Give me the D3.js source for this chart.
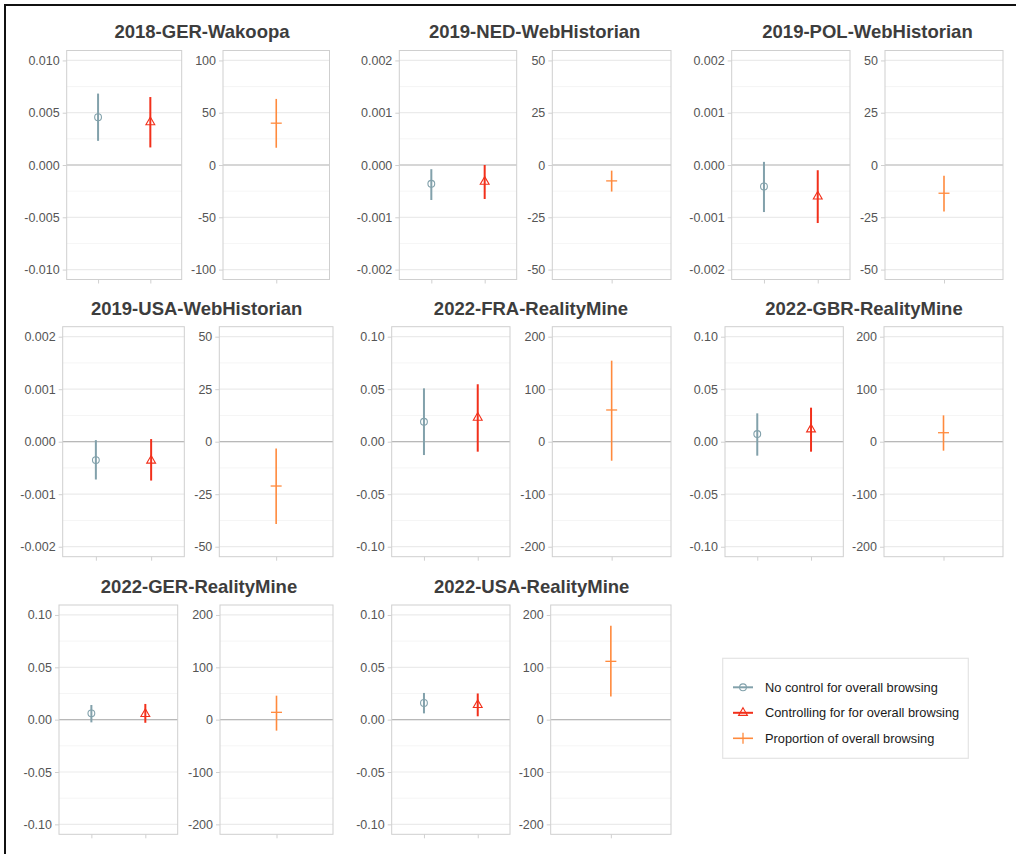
<!DOCTYPE html>
<html>
<head>
<meta charset="utf-8">
<script src="https://cdn.jsdelivr.net/npm/d3@7"></script>
<style>
  body { margin: 0; background: #fff; }
  svg { display: block; font-family: "Liberation Sans", Arial, sans-serif; }
</style>
</head>
<body>
<div id="chart"></div>
<script>
// estimates and 95% intervals
var studies = ["2018-GER-Wakoopa", "2019-NED-WebHistorian", "2019-POL-WebHistorian",
               "2019-USA-WebHistorian", "2022-FRA-RealityMine", "2022-GBR-RealityMine",
               "2022-GER-RealityMine", "2022-USA-RealityMine"];
var noCtrlEst = [0.00457, -0.00036, -0.00041, -0.00035, 0.019, 0.0073, 0.006, 0.016];
var noCtrlLo  = [0.00231, -0.00067, -0.00090, -0.00072, -0.0127, -0.0133, -0.0026, 0.006];
var noCtrlHi  = [0.00683, -0.00008, 0.00006, 0.00003, 0.0508, 0.027, 0.014, 0.0255];
var ctrlEst = [0.0041, -0.00032, -0.0006, -0.00036, 0.0229, 0.0118, 0.0055, 0.014];
var ctrlLo  = [0.00168, -0.00065, -0.00111, -0.00074, -0.0095, -0.0095, -0.003, 0.0032];
var ctrlHi  = [0.0065, 0.0, -0.0001, 0.00005, 0.0547, 0.0324, 0.015, 0.025];
var propEst = [40, -7.6, -13.5, -21.1, 60.4, 17.1, 14, 111.4];
var propLo  = [16.5, -12.7, -22.2, -39.2, -36.2, -17.1, -21, 44];
var propHi  = [63.2, -2.7, -5.1, -3.2, 154.3, 50.2, 45.8, 179.6];

var effectTicks = [
  [-0.01, -0.005, 0, 0.005, 0.01],
  [-0.002, -0.001, 0, 0.001, 0.002],
  [-0.002, -0.001, 0, 0.001, 0.002],
  [-0.002, -0.001, 0, 0.001, 0.002],
  [-0.1, -0.05, 0, 0.05, 0.1],
  [-0.1, -0.05, 0, 0.05, 0.1],
  [-0.1, -0.05, 0, 0.05, 0.1],
  [-0.1, -0.05, 0, 0.05, 0.1]
];
var effectTickLabels = [
  ["-0.010", "-0.005", "0.000", "0.005", "0.010"],
  ["-0.002", "-0.001", "0.000", "0.001", "0.002"],
  ["-0.002", "-0.001", "0.000", "0.001", "0.002"],
  ["-0.002", "-0.001", "0.000", "0.001", "0.002"],
  ["-0.10", "-0.05", "0.00", "0.05", "0.10"],
  ["-0.10", "-0.05", "0.00", "0.05", "0.10"],
  ["-0.10", "-0.05", "0.00", "0.05", "0.10"],
  ["-0.10", "-0.05", "0.00", "0.05", "0.10"]
];
var propTicks = [
  [-100, -50, 0, 50, 100],
  [-50, -25, 0, 25, 50],
  [-50, -25, 0, 25, 50],
  [-50, -25, 0, 25, 50],
  [-200, -100, 0, 100, 200],
  [-200, -100, 0, 100, 200],
  [-200, -100, 0, 100, 200],
  [-200, -100, 0, 100, 200]
];
var seriesNames = ["No control for overall browsing",
                   "Controlling for for overall browsing",
                   "Proportion of overall browsing"];
var colBlue = "#82a1ab", colRed = "#f2301b", colOrange = "#ff8a3d";

// layout of the patchwork: panel boxes (px)
var rows = [{y0: 50.5, y1: 279.5, tb: 37.5}, {y0: 326.7, y1: 556.7, tb: 315}, {y0: 605, y1: 834.3, tb: 592.5}];
var layout = [
  {row: 0, l: [66.7, 181.7], r: [223, 329.5], tx: 202},
  {row: 0, l: [399.3, 516.7], r: [552.3, 671], tx: 534.7},
  {row: 0, l: [731.7, 850], r: [885, 1003], tx: 867.5},
  {row: 1, l: [62.7, 184.3], r: [219.3, 333], tx: 196.7},
  {row: 1, l: [391.7, 510], r: [552.3, 671], tx: 531},
  {row: 1, l: [725, 843.3], r: [884, 1003], tx: 864},
  {row: 2, l: [59, 177.7], r: [220, 333], tx: 199},
  {row: 2, l: [391.7, 510], r: [550.7, 671], tx: 531.7}
];

var W = 1016, H = 854;
var svg = d3.select("#chart").append("svg").attr("width", W).attr("height", H);
svg.append("rect").attr("width", W).attr("height", H).attr("fill", "#fff");

// clipped border of the source figure
svg.append("line").attr("x1", 5).attr("x2", 5).attr("y1", 4).attr("y2", H)
  .attr("stroke", "#111").attr("stroke-width", 2);
svg.append("line").attr("x1", 4).attr("x2", W).attr("y1", 5).attr("y2", 5)
  .attr("stroke", "#111").attr("stroke-width", 2);

function drawBox(g, x0, x1, y0, y1, ticks, labels, intervals) {
  var ext = ticks[ticks.length - 1] * 1.095;
  var y = d3.scaleLinear().domain([-ext, ext]).range([y1, y0]);
  var minor = [];
  for (var i = 0; i < ticks.length - 1; i++) minor.push((ticks[i] + ticks[i + 1]) / 2);

  g.selectAll(".minor").data(minor).enter().append("line")
    .attr("x1", x0).attr("x2", x1).attr("y1", y).attr("y2", y)
    .attr("stroke", "#f3f3f3").attr("stroke-width", 0.8);
  g.selectAll(".major").data(ticks).enter().append("line")
    .attr("x1", x0).attr("x2", x1).attr("y1", y).attr("y2", y)
    .attr("stroke", "#ebebeb").attr("stroke-width", 1.2);
  g.append("line").attr("x1", x0).attr("x2", x1).attr("y1", y(0)).attr("y2", y(0))
    .attr("stroke", "#b8b8b8").attr("stroke-width", 1.2);

  var ax = g.append("g").attr("transform", "translate(" + x0 + ",0)")
    .call(d3.axisLeft(y).tickValues(ticks).tickSize(4).tickPadding(3)
      .tickFormat(function(d, i) { return labels[i]; }));
  ax.select(".domain").remove();
  ax.selectAll(".tick line").attr("stroke", "#d0d0d0");
  ax.selectAll(".tick text").attr("fill", "#555").style("font-size", "12.5px");

  g.append("rect").attr("x", x0).attr("y", y0).attr("width", x1 - x0).attr("height", y1 - y0)
    .attr("fill", "none").attr("stroke", "#cfcfcf").attr("stroke-width", 1);

  var x = d3.scalePoint().domain(intervals.map(function(d) { return d.key; }))
    .range([x0, x1]).padding(intervals.length > 1 ? 0.6 : 1);

  var xa = g.append("g").attr("transform", "translate(0," + y1 + ")")
    .call(d3.axisBottom(x).tickSize(4).tickFormat(""));
  xa.select(".domain").remove();
  xa.selectAll(".tick line").attr("stroke", "#d0d0d0");
  return {x: x, y: y};
}

function drawMarker(g, shape, cx, cy, col) {
  if (shape === "circle") {
    g.append("circle").attr("cx", cx).attr("cy", cy).attr("r", 3.4)
      .attr("fill", "none").attr("stroke", col).attr("stroke-width", 1.1);
  } else if (shape === "triangle") {
    g.append("path").attr("d", d3.symbol(d3.symbolTriangle, 34)())
      .attr("transform", "translate(" + cx + "," + cy + ")")
      .attr("fill", "none").attr("stroke", col).attr("stroke-width", 1.1);
  } else {
    g.append("line").attr("x1", cx - 5.5).attr("x2", cx + 5.5).attr("y1", cy).attr("y2", cy)
      .attr("stroke", col).attr("stroke-width", 1.3);
  }
}

studies.forEach(function(name, i) {
  var L = layout[i], R = rows[L.row];
  var g = svg.append("g");

  g.append("text").attr("x", L.tx).attr("y", R.tb).attr("text-anchor", "middle")
    .attr("fill", "#3d3d3d").style("font-size", "18.5px").style("font-weight", "bold")
    .text(name);

  var left = [
    {key: "nc", est: noCtrlEst[i], lo: noCtrlLo[i], hi: noCtrlHi[i], col: colBlue, shape: "circle"},
    {key: "c", est: ctrlEst[i], lo: ctrlLo[i], hi: ctrlHi[i], col: colRed, shape: "triangle"}
  ];
  var sL = drawBox(g, L.l[0], L.l[1], R.y0, R.y1, effectTicks[i], effectTickLabels[i], left);
  left.forEach(function(d) {
    g.append("line").attr("x1", sL.x(d.key)).attr("x2", sL.x(d.key))
      .attr("y1", sL.y(d.lo)).attr("y2", sL.y(d.hi))
      .attr("stroke", d.col).attr("stroke-width", 2);
    drawMarker(g, d.shape, sL.x(d.key), sL.y(d.est), d.col);
  });

  var right = [{key: "p", est: propEst[i], lo: propLo[i], hi: propHi[i], col: colOrange, shape: "plus"}];
  var rTicks = propTicks[i];
  var sR = drawBox(g, L.r[0], L.r[1], R.y0, R.y1, rTicks, rTicks.map(String), right);
  right.forEach(function(d) {
    g.append("line").attr("x1", sR.x(d.key)).attr("x2", sR.x(d.key))
      .attr("y1", sR.y(d.lo)).attr("y2", sR.y(d.hi))
      .attr("stroke", d.col).attr("stroke-width", 1.6);
    drawMarker(g, d.shape, sR.x(d.key), sR.y(d.est), d.col);
  });
});

// legend
var lg = svg.append("g");
lg.append("rect").attr("x", 722.7).attr("y", 658.3).attr("width", 245.6).attr("height", 100)
  .attr("fill", "#fff").attr("stroke", "#e4e4e4").attr("stroke-width", 1.2);
var keyCols = [colBlue, colRed, colOrange], keyShapes = ["circle", "triangle", "plus"];
var ly = d3.scalePoint().domain(seriesNames).range([687.3, 738.3]);
seriesNames.forEach(function(s, k) {
  var cy = ly(s);
  lg.append("line").attr("x1", 733).attr("x2", 753).attr("y1", cy).attr("y2", cy)
    .attr("stroke", keyCols[k]).attr("stroke-width", k === 2 ? 1.6 : 2);
  if (k === 2) {
    lg.append("line").attr("x1", 743).attr("x2", 743).attr("y1", cy - 5.5).attr("y2", cy + 5.5)
      .attr("stroke", keyCols[k]).attr("stroke-width", 1.3);
  } else {
    drawMarker(lg, keyShapes[k], 743, cy, keyCols[k]);
  }
  lg.append("text").attr("x", 765).attr("y", cy).attr("dy", "0.35em")
    .attr("fill", "#1a1a1a").style("font-size", "12.8px").text(s);
});
</script>
</body>
</html>
